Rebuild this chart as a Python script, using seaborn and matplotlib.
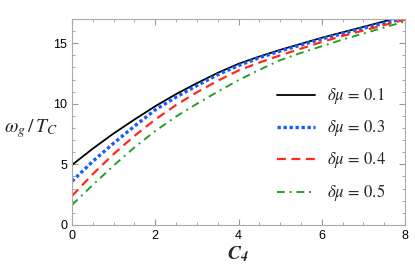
import numpy as np
import pandas as pd
import matplotlib
matplotlib.use("Agg")
import matplotlib.pyplot as plt
import seaborn as sns
from matplotlib.ticker import MultipleLocator

# values
c4 = [0, 0.5, 1, 1.5, 2, 2.5, 3, 3.5, 4, 4.5, 5, 5.5, 6, 6.5, 7, 7.5, 8]
w_01 = [4.95, 6.3, 7.55, 8.7, 9.8, 10.8, 11.7, 12.55, 13.3, 13.9, 14.45, 14.95, 15.45, 15.9, 16.35, 16.8, 17.25]
w_03 = [3.6, 5.25, 6.75, 8.15, 9.5, 10.55, 11.5, 12.4, 13.15, 13.8, 14.35, 14.85, 15.35, 15.8, 16.25, 16.65, 17.05]
w_04 = [2.4, 4.2, 5.85, 7.35, 8.7, 9.9, 10.95, 11.9, 12.75, 13.4, 14.0, 14.55, 15.1, 15.6, 16.05, 16.5, 16.95]
w_05 = [1.65, 3.3, 4.9, 6.4, 7.75, 8.95, 10.0, 11.0, 11.95, 12.8, 13.6, 14.2, 14.75, 15.3, 15.8, 16.3, 16.8]
labels = [r"$\delta\mu\,=\,0.1$", r"$\delta\mu\,=\,0.3$", r"$\delta\mu\,=\,0.4$", r"$\delta\mu\,=\,0.5$"]

sns.set_style("ticks")
plt.rcParams["mathtext.fontset"] = "stix"
plt.rcParams["font.family"] = ["Liberation Sans", "DejaVu Sans"]

fig = plt.figure(figsize=(4.15, 2.77), dpi=100)
ax = fig.add_axes([0.1735, 0.188, 0.8025, 0.7435])

styles = [
    dict(color="black", linestyle="-", linewidth=1.3),
    dict(color="#1a5cff", linestyle=(0, (1, 0.8)), linewidth=2.4),
    dict(color="#ff2a1a", linestyle=(0, (4, 2.5)), linewidth=1.6),
    dict(color="#22a022", linestyle=(0, (4, 2.5, 1, 2.5)), linewidth=1.4),
]
for ys, lab, st in zip([w_01, w_03, w_04, w_05], labels, styles):
    sns.lineplot(x=c4, y=ys, ax=ax, label=lab, **st)

ax.set_xlim(0, 8)
ax.set_ylim(0, 17)
ax.xaxis.set_major_locator(MultipleLocator(2))
ax.xaxis.set_minor_locator(MultipleLocator(0.5))
ax.yaxis.set_major_locator(MultipleLocator(5))
ax.yaxis.set_minor_locator(MultipleLocator(1))
ax.tick_params(which="both", direction="in", top=True, right=True, color="#999999")
ax.tick_params(which="major", length=4, labelsize=9, colors="#999999", labelcolor="black")
ax.tick_params(which="minor", length=2)
for sp in ax.spines.values():
    sp.set_color("#aaaaaa")
    sp.set_linewidth(0.8)

ax.set_xlabel(r"$\mathbfit{C}_{\mathbfit{4}}$", fontsize=14, labelpad=2)
ax.set_ylabel(r"$\omega_g\,/\,T_C$", fontsize=14, rotation=0, va="center", ha="center")
ax.yaxis.set_label_coords(-0.125, 0.47)

leg = ax.legend(loc="upper left", bbox_to_anchor=(0.57, 0.745), frameon=False,
                fontsize=12, labelspacing=0.72, handlelength=2.3, handletextpad=0.7)

fig.savefig("out.png", dpi=100)
